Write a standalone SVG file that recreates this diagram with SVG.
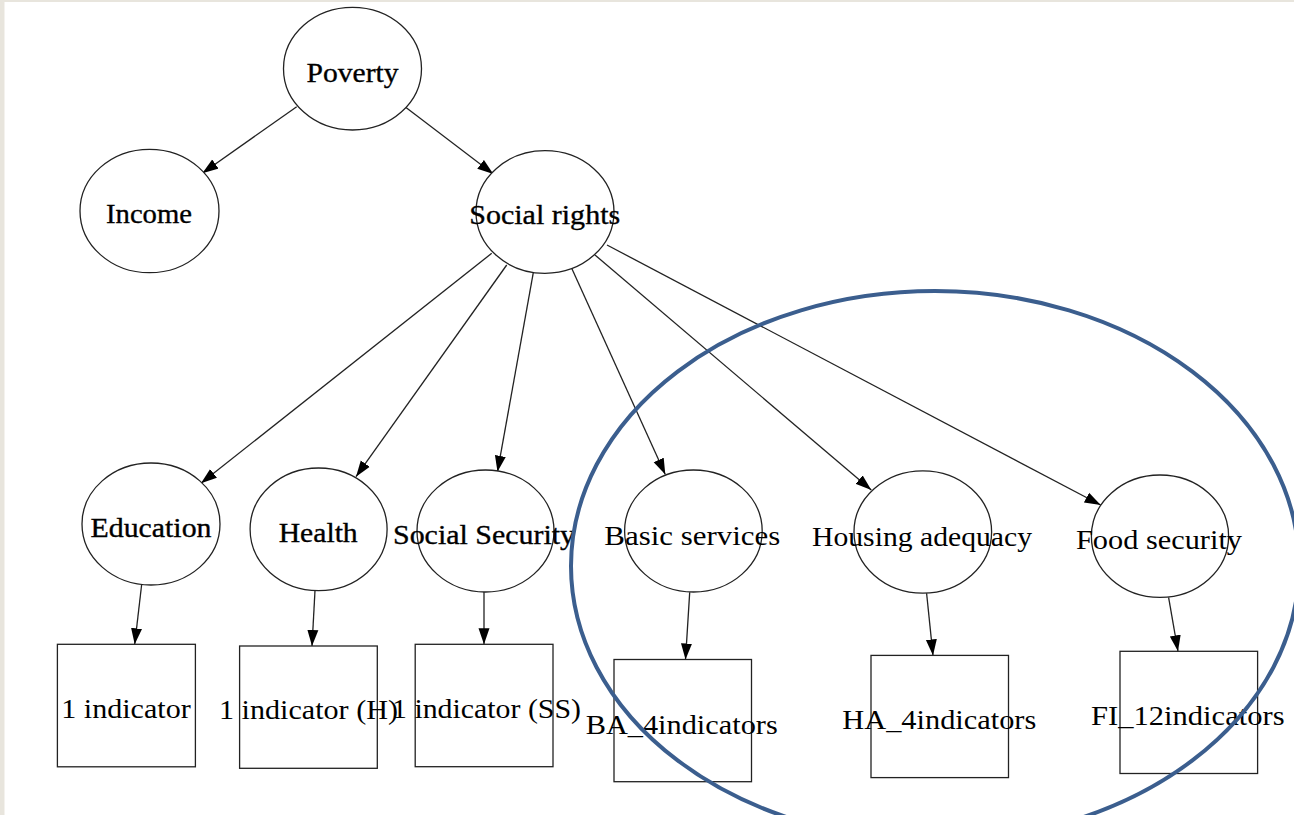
<svg xmlns="http://www.w3.org/2000/svg" width="1294" height="815" viewBox="0 0 1294 815">
<style>
.n{fill:#fff;stroke:#222;stroke-width:1.3}
.t{font-family:"Liberation Serif","Times New Roman",Times,serif;font-size:28px;fill:#000;text-anchor:middle}
.b{stroke:#000;stroke-width:0.35}
.e{stroke:#222;stroke-width:1.3;fill:none;marker-end:url(#ah)}
</style>
<defs>
<marker id="ah" markerUnits="userSpaceOnUse" markerWidth="16" markerHeight="12" refX="16" refY="6" orient="auto">
<path d="M0,0.5 L16,6 L0,11.5 z" fill="#000"/>
</marker>
</defs>
<rect x="0" y="0" width="1294" height="815" fill="#e8e5dd"/>
<rect x="4.5" y="2" width="1290" height="813" fill="#fff"/>
<g id="connectors">
<line class="e" x1="296.7" y1="106.7" x2="202.3" y2="173.3"/>
<line class="e" x1="405" y1="106.7" x2="493.3" y2="174"/>
<line class="e" x1="491.7" y1="253.3" x2="201" y2="483.3"/>
<line class="e" x1="506.7" y1="265" x2="356" y2="476.7"/>
<line class="e" x1="533.3" y1="272.7" x2="497.5" y2="471.7"/>
<line class="e" x1="571.7" y1="268.3" x2="665.3" y2="474.5"/>
<line class="e" x1="595" y1="255" x2="871.3" y2="490"/>
<line class="e" x1="607" y1="245" x2="1100.7" y2="505"/>
<line class="e" x1="141.6" y1="585" x2="134.7" y2="644.3"/>
<line class="e" x1="315" y1="590.5" x2="312" y2="646"/>
<line class="e" x1="484" y1="592" x2="484" y2="644.3"/>
<line class="e" x1="689.7" y1="592.3" x2="685.5" y2="659.5"/>
<line class="e" x1="926.6" y1="593.3" x2="933" y2="655.4"/>
<line class="e" x1="1168.6" y1="597.4" x2="1178" y2="651.3"/>
</g>
<g id="poverty"><ellipse class="n" cx="352.5" cy="68.7" rx="69" ry="61.3"/><text class="t b" x="352.5" y="81.7" textLength="92" lengthAdjust="spacingAndGlyphs">Poverty</text></g>
<g id="income"><ellipse class="n" cx="149.5" cy="211" rx="69.5" ry="61.7"/><text class="t b" x="149" y="223.3" textLength="86" lengthAdjust="spacingAndGlyphs">Income</text></g>
<g id="social-rights"><ellipse class="n" cx="545" cy="212" rx="69" ry="61.3"/><text class="t b" x="544.7" y="224" textLength="151" lengthAdjust="spacingAndGlyphs">Social rights</text></g>
<g id="education"><ellipse class="n" cx="151" cy="524" rx="69" ry="61"/><text class="t b" x="151" y="536.7" textLength="121" lengthAdjust="spacingAndGlyphs">Education</text></g>
<g id="health"><ellipse class="n" cx="318.6" cy="529.3" rx="68.5" ry="61.3"/><text class="t b" x="318.2" y="542.3" textLength="79" lengthAdjust="spacingAndGlyphs">Health</text></g>
<g id="social-security"><ellipse class="n" cx="485.5" cy="531" rx="68.5" ry="61"/><text class="t b" x="484" y="543.5" textLength="182" lengthAdjust="spacingAndGlyphs">Social Security</text></g>
<g id="basic-services"><ellipse class="n" cx="693.4" cy="531" rx="68.8" ry="61"/><text class="t" x="692.3" y="544.5" textLength="176" lengthAdjust="spacingAndGlyphs">Basic services</text></g>
<g id="housing-adequacy"><ellipse class="n" cx="922.8" cy="532" rx="68.8" ry="61.2"/><text class="t" x="922" y="545.5" textLength="220" lengthAdjust="spacingAndGlyphs">Housing adequacy</text></g>
<g id="food-security"><ellipse class="n" cx="1160" cy="536.2" rx="68.6" ry="61.2"/><text class="t" x="1159" y="549" textLength="166" lengthAdjust="spacingAndGlyphs">Food security</text></g>
<g id="ed-indicator"><rect class="n" x="57.4" y="644.3" width="138" height="122.5"/><text class="t" x="126" y="718.3" textLength="129.5" lengthAdjust="spacingAndGlyphs">1 indicator</text></g>
<g id="h-indicator"><rect class="n" x="239.6" y="646" width="137.7" height="122.3"/><text class="t" x="308.5" y="719.3" textLength="179" lengthAdjust="spacingAndGlyphs">1 indicator (H)</text></g>
<g id="ss-indicator"><rect class="n" x="415.2" y="644.3" width="137.8" height="122.4"/><text class="t" x="486.5" y="718.3" textLength="189" lengthAdjust="spacingAndGlyphs">1 indicator (SS)</text></g>
<g id="ba-indicators"><rect class="n" x="614" y="659.5" width="137.5" height="122.2"/><text class="t" x="681.7" y="734" textLength="192" lengthAdjust="spacingAndGlyphs">BA_4indicators</text></g>
<g id="ha-indicators"><rect class="n" x="871" y="655.4" width="137.5" height="122.2"/><text class="t" x="939.3" y="729" textLength="194" lengthAdjust="spacingAndGlyphs">HA_4indicators</text></g>
<g id="fi-indicators"><rect class="n" x="1120" y="651.3" width="137.6" height="122.2"/><text class="t" x="1187.8" y="725.4" textLength="193.5" lengthAdjust="spacingAndGlyphs">FI_12indicators</text></g>
<ellipse id="highlight" cx="935" cy="566" rx="364" ry="275" fill="none" stroke="#3b5e8e" stroke-width="4"/>
</svg>
